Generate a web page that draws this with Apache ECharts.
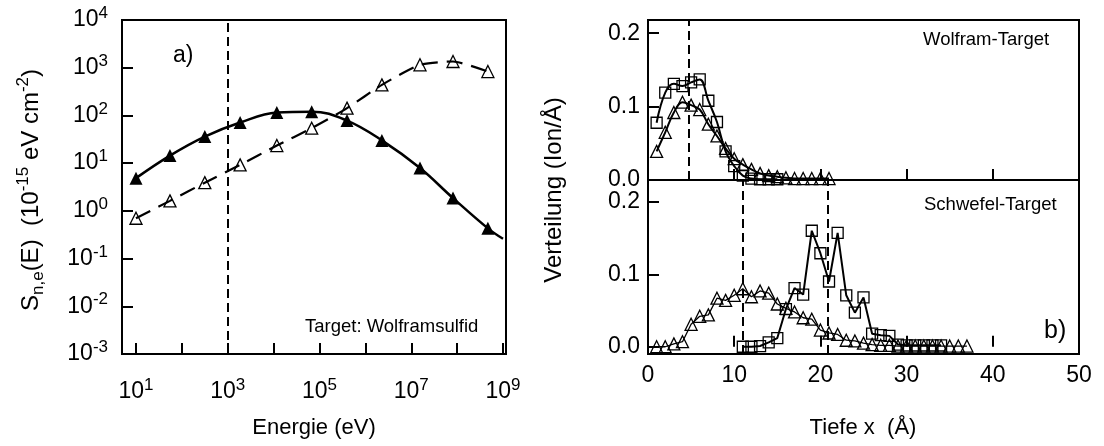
<!DOCTYPE html>
<html><head><meta charset="utf-8">
<script src="https://cdn.jsdelivr.net/npm/echarts@6/dist/echarts.min.js"></script>
<style>html,body{margin:0;padding:0;background:#fff}#c{width:1104px;height:446px}</style>
</head><body><div id="c"></div>
<script>
// ---- Panel a): stopping power vs energy ----
const energyEV = [10, 55, 316, 1860, 11750, 67600, 398000, 2290000, 15500000, 81300000, 468000000];
const stoppingFilled = [4.85, 14.4, 36, 71, 115, 120, 78, 30, 7.9, 1.85, 0.43];
const stoppingOpen = [0.70, 1.62, 3.9, 9.2, 23.4, 54, 142, 437, 1150, 1350, 830];
const filledLineEndE = [1.0e9];
const filledLineEndS = [0.26];
const markEnergy = [1000];

// ---- Panel b) top: Wolfram-Target ----
const depthWSquares = [1,2,3,4,5,6,7,8,9,10,11,12,13,14,15];
const wolfSquares = [0.078,0.119,0.131,0.128,0.133,0.137,0.108,0.079,0.039,0.019,0.006,0.002,0.001,0.001,0.001];
const depthWTriangles = [1,2,3,4,5,6,7,8,9,10,11,12,13,14,15,16,17,18,19,20,21];
const wolfTriangles = [0.039,0.065,0.092,0.106,0.102,0.096,0.076,0.060,0.043,0.029,0.021,0.0145,0.009,0.006,0.0045,0.003,0.002,0.002,0.002,0.002,0.002];
const markW = [4.7];

// ---- Panel b) bottom: Schwefel-Target ----
const depthSTriangles = [1,2,3,4,5,6,7,8,9,10,11,12,13,14,15,16,17,18,19,20,21,22,23,24,25,26,27,28,29,30,31,32,33,34,35,36,37];
const schwefelTriangles = [0.000,0.000,0.004,0.007,0.031,0.042,0.044,0.067,0.064,0.071,0.080,0.069,0.077,0.074,0.059,0.053,0.048,0.040,0.038,0.023,0.019,0.017,0.009,0.008,0.005,0.003,0.002,0.002,0.001,0.001,0.001,0.001,0.001,0.001,0.001,0.001,0.001];
const depthSSquares = [11,12,13,14,15,16,17,18,19,20,21,22,23,24,25,26,27,28,29,30,31,32,33,34];
const schwefelSquares = [0.000,0.000,0.001,0.006,0.012,0.052,0.081,0.072,0.160,0.129,0.090,0.157,0.071,0.047,0.068,0.018,0.016,0.015,0.003,0.002,0.002,0.002,0.002,0.002];
const markS = [11.0, 20.8];

const FONT = '"Liberation Sans", Arial, Helvetica, sans-serif';
const chart = echarts.init(document.getElementById('c'), null, {renderer: 'canvas'});

const pairs = (xs, ys) => xs.map((x, i) => [x, ys[i]]);
const supRich = {
  b: {fontSize: 23, fontFamily: FONT, color: '#000', lineHeight: 30},
  s: {fontSize: 17, fontFamily: FONT, color: '#000', verticalAlign: 'top', lineHeight: 17}
};
function logLabel(v, oddOnly) {
  const e = Math.log10(v);
  const r = Math.round(e);
  if (Math.abs(e - r) > 1e-6) return '';
  if (oddOnly && Math.abs(r % 2) !== 1) return '';
  return '{b|10}{s|' + r + '}';
}
function decLabel(v) {
  const t = v * 10;
  if (Math.abs(t - Math.round(t)) > 1e-6) return '';
  return (Math.round(t) / 10).toFixed(1);
}
const tick = {show: true, inside: true, length: 11, lineStyle: {color: '#000', width: 2}};
const dashMark = (vals) => ({
  silent: true, symbol: ['none', 'none'], animation: false,
  label: {show: false},
  lineStyle: {color: '#000', width: 2, type: [9, 5]},
  data: vals.map(v => ({xAxis: v}))
});
const gridStyle = {show: true, borderColor: '#000', borderWidth: 2, backgroundColor: 'transparent', containLabel: false};
const openItem = {color: 'rgba(0,0,0,0)', borderColor: '#000', borderWidth: 1.3};

const option = {
  animation: false,
  backgroundColor: '#fff',
  textStyle: {fontFamily: FONT},
  grid: [
    Object.assign({left: 122, top: 20, width: 384, height: 334}, gridStyle),
    Object.assign({left: 648, top: 20, width: 431, height: 160}, gridStyle),
    Object.assign({left: 648, top: 180, width: 431, height: 174}, gridStyle)
  ],
  xAxis: [
    {gridIndex: 0, type: 'log', logBase: 10, min: Math.pow(10, 0.695), max: Math.pow(10, 9.065), splitNumber: 10,
     axisLine: {show: false}, axisTick: tick, splitLine: {show: false}, minorTick: {show: false},
     axisLabel: {show: true, margin: 23, formatter: v => logLabel(v, true), rich: supRich, color: '#000', showMinLabel: true, showMaxLabel: true}},
    {gridIndex: 1, type: 'value', min: 0, max: 50, interval: 10,
     axisLine: {show: false}, axisTick: tick, splitLine: {show: false}, axisLabel: {show: false}},
    {gridIndex: 2, type: 'value', min: 0, max: 50, interval: 10,
     axisLine: {show: false}, axisTick: tick, splitLine: {show: false},
     axisLabel: {show: true, margin: 10, fontSize: 23, fontFamily: FONT, color: '#000', showMinLabel: true, showMaxLabel: true}}
  ],
  yAxis: [
    {gridIndex: 0, type: 'log', logBase: 10, min: 1e-3, max: 1e4, splitNumber: 10,
     axisLine: {show: false}, axisTick: tick, splitLine: {show: false}, minorTick: {show: false},
     axisLabel: {show: true, margin: 14, formatter: v => logLabel(v, false), rich: supRich, color: '#000', showMinLabel: true, showMaxLabel: true}},
    {gridIndex: 1, type: 'value', min: 0, max: 0.218, splitNumber: 2,
     axisLine: {show: false}, axisTick: tick, splitLine: {show: false},
     axisLabel: {show: true, margin: 8, fontSize: 23, fontFamily: FONT, color: '#000', formatter: decLabel, showMinLabel: true, showMaxLabel: true}},
    {gridIndex: 2, type: 'value', min: -0.01, max: 0.23, splitNumber: 2,
     axisLine: {show: false}, axisTick: tick, splitLine: {show: false},
     axisLabel: {show: true, margin: 8, fontSize: 23, fontFamily: FONT, color: '#000', formatter: decLabel, showMinLabel: true, showMaxLabel: true}}
  ],
  series: [
    {type: 'line', xAxisIndex: 0, yAxisIndex: 0, smooth: 0.4, z: 3,
     data: pairs(energyEV, stoppingFilled).concat(pairs(filledLineEndE, filledLineEndS).map(p => ({value: p, symbol: 'none'}))),
     symbol: 'triangle', symbolSize: 13, itemStyle: {color: '#000'},
     lineStyle: {color: '#000', width: 2.5}, markLine: dashMark(markEnergy)},
    {type: 'line', xAxisIndex: 0, yAxisIndex: 0, smooth: 0.2, z: 3,
     data: pairs(energyEV, stoppingOpen),
     symbol: 'triangle', symbolSize: 12, itemStyle: openItem,
     lineStyle: {color: '#000', width: 2.2, type: [16, 9]}},
    {type: 'line', xAxisIndex: 1, yAxisIndex: 1, smooth: 0.4, z: 3,
     data: pairs(depthWSquares, wolfSquares),
     symbol: 'rect', symbolSize: 11, itemStyle: openItem,
     lineStyle: {color: '#000', width: 2}, markLine: dashMark(markW)},
    {type: 'line', xAxisIndex: 1, yAxisIndex: 1, smooth: 0.4, z: 3,
     data: pairs(depthWTriangles, wolfTriangles),
     symbol: 'triangle', symbolSize: 12, itemStyle: openItem,
     lineStyle: {color: '#000', width: 2}},
    {type: 'line', xAxisIndex: 2, yAxisIndex: 2, z: 3,
     data: pairs(depthSSquares, schwefelSquares),
     symbol: 'rect', symbolSize: 11, itemStyle: openItem,
     lineStyle: {color: '#000', width: 2}, markLine: dashMark(markS)},
    {type: 'line', xAxisIndex: 2, yAxisIndex: 2, z: 3,
     data: pairs(depthSTriangles, schwefelTriangles),
     symbol: 'triangle', symbolSize: 12, itemStyle: openItem,
     lineStyle: {color: '#000', width: 1.3}}
  ],
  graphic: [
    {type: 'text', x: 31, y: 190, rotation: Math.PI / 2, style: {
      text: '{m|S}{sub|n,e}{m|(E)  (10}{sup|-15}{m| eV cm}{sup|-2}{m|)}',
      align: 'center', verticalAlign: 'middle', fill: '#000',
      rich: {
        m: {fontSize: 24, fontFamily: FONT, fill: '#000', lineHeight: 32},
        sup: {fontSize: 17, fontFamily: FONT, fill: '#000', verticalAlign: 'top', lineHeight: 17},
        sub: {fontSize: 17, fontFamily: FONT, fill: '#000', verticalAlign: 'bottom', lineHeight: 17}
      }}},
    {type: 'text', x: 314, y: 428, style: {text: 'Energie (eV)', font: '22px ' + FONT, align: 'center', verticalAlign: 'middle', fill: '#000'}},
    {type: 'text', x: 554, y: 190, rotation: Math.PI / 2, style: {text: 'Verteilung (Ion/Å)', font: '24px ' + FONT, align: 'center', verticalAlign: 'middle', fill: '#000'}},
    {type: 'text', x: 863, y: 428, style: {text: 'Tiefe x  (Å)', font: '22px ' + FONT, align: 'center', verticalAlign: 'middle', fill: '#000'}},
    {type: 'text', x: 173, y: 56, style: {text: 'a)', font: '23px ' + FONT, align: 'left', verticalAlign: 'middle', fill: '#000'}},
    {type: 'text', x: 305, y: 327, style: {text: 'Target: Wolframsulfid', font: '18.5px ' + FONT, align: 'left', verticalAlign: 'middle', fill: '#000'}},
    {type: 'text', x: 923, y: 40, style: {text: 'Wolfram-Target', font: '18.5px ' + FONT, align: 'left', verticalAlign: 'middle', fill: '#000'}},
    {type: 'text', x: 924, y: 205, style: {text: 'Schwefel-Target', font: '18.5px ' + FONT, align: 'left', verticalAlign: 'middle', fill: '#000'}},
    {type: 'text', x: 1044, y: 331, style: {text: 'b)', font: '25px ' + FONT, align: 'left', verticalAlign: 'middle', fill: '#000'}}
  ]
};
chart.setOption(option);
</script>
</body></html>
